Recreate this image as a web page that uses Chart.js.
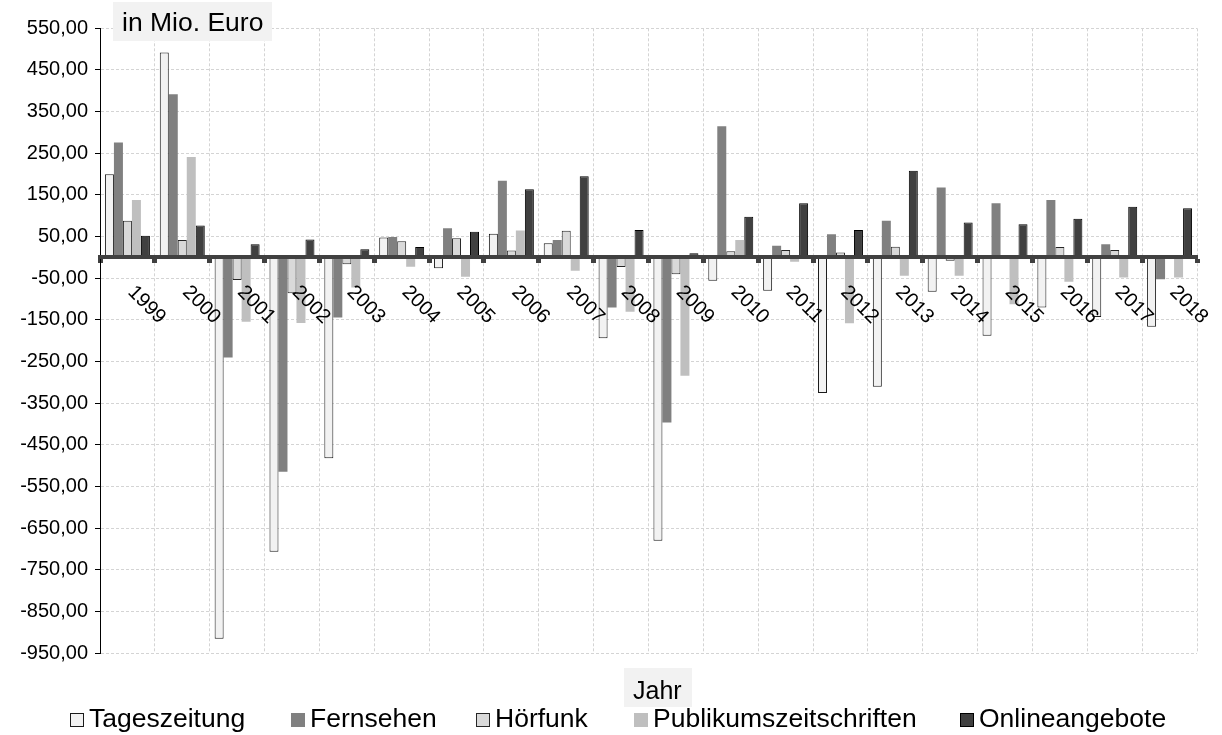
<!DOCTYPE html>
<html><head><meta charset="utf-8">
<script src="https://cdn.jsdelivr.net/npm/chart.js@4.4.1/dist/chart.umd.min.js"></script>
<style>
html,body{margin:0;padding:0;background:#fff;overflow:hidden;}
#c{display:block;}
</style></head><body>
<canvas id="c" width="1222" height="735"></canvas>
<script>
const categories = ['1999','2000','2001','2002','2003','2004','2005','2006','2007','2008','2009','2010','2011','2012','2013','2014','2015','2016','2017','2018'];
const tageszeitung = [200, 492, -915, -706, -482, 48, -26, 57, 34, -194, -680, -56, -80, -325, -310, -82, -188, -120, -143, -166];
const fernsehen = [276, 392, -240, -514, -144, 49, 70, 184, 42, -120, -396, 315, 28, 56, 88, 168, 130, 138, 32, -52];
const hoerfunk = [88, 42, -54, -86, -16, 39, 46, 17, 64, -23, -40, 15, 18, 12, 26, -8, 2, 25, 18, -2];
const publikumszeitschriften = [138, 241, -154, -157, -72, -22, -46, 65, -32, -130, -284, 42, -10, -158, -44, -44, -112, -58, -48, -48];
const onlineangebote = [52, 77, 32, 43, 20, 25, 62, 164, 195, 66, 10, 98, 130, 66, 208, 84, 80, 93, 122, 118];
const seriesNames = ['Tageszeitung', 'Fernsehen', 'Hörfunk', 'Publikumszeitschriften', 'Onlineangebote'];
const yTickValues = [550, 450, 350, 250, 150, 50, -50, -150, -250, -350, -450, -550, -650, -750, -850, -950];
const yAxisTitle = 'in Mio. Euro';
const xAxisTitle = 'Jahr';

const FONT = '"Liberation Sans", Arial, sans-serif';
const legendBoxX = [70, 291, 476, 634, 960];

const ds = (label, data, bg, border, bw) => ({
  label, data, backgroundColor: bg, borderColor: border, borderWidth: bw,
  borderSkipped: false, categoryPercentage: 0.82, barPercentage: 1.0
});

const overlay = {
  id: 'overlay',
  afterDraw(chart) {
    const ctx = chart.ctx;
    const xs = chart.scales.x, ys = chart.scales.y;
    const y0 = ys.getPixelForValue(0);
    ctx.save();
    // category labels, rotated 45 degrees downward
    ctx.font = '20px ' + FONT;
    ctx.fillStyle = '#000';
    categories.forEach((c, i) => {
      const px = xs.getPixelForValue(i);
      ctx.save();
      ctx.translate(px - 0.5, y0 + 35.5);
      ctx.rotate(Math.PI / 4);
      ctx.textAlign = 'left';
      ctx.textBaseline = 'alphabetic';
      ctx.fillText(c, 0, 0);
      ctx.restore();
    });
    // y title box
    ctx.fillStyle = '#f2f2f2';
    ctx.fillRect(113, 2, 159, 39);
    ctx.fillStyle = '#000';
    ctx.font = '26.5px ' + FONT;
    ctx.textAlign = 'left';
    ctx.textBaseline = 'alphabetic';
    ctx.fillText(yAxisTitle, 122, 31);
    // x title box
    ctx.fillStyle = '#f2f2f2';
    ctx.fillRect(624, 668, 68, 39);
    ctx.fillStyle = '#000';
    ctx.font = '25px ' + FONT;
    ctx.fillText(xAxisTitle, 633, 699);
    // legend
    ctx.font = '26.5px ' + FONT;
    chart.data.datasets.forEach((d, i) => {
      const x = legendBoxX[i];
      ctx.fillStyle = d.backgroundColor;
      ctx.fillRect(x, 713, 14, 14);
      if (d.borderWidth) {
        ctx.strokeStyle = d.borderColor;
        ctx.lineWidth = 1;
        ctx.strokeRect(x + 0.5, 713.5, 13, 13);
      }
      ctx.fillStyle = '#000';
      ctx.fillText(d.label, x + 19, 727);
    });
    ctx.restore();
  }
};

new Chart(document.getElementById('c'), {
  type: 'bar',
  data: {
    labels: categories,
    datasets: [
      ds(seriesNames[0], tageszeitung, '#f2f2f2', '#1a1a1a', 1),
      ds(seriesNames[1], fernsehen, '#808080', '#808080', 0),
      ds(seriesNames[2], hoerfunk, '#d9d9d9', '#262626', 1),
      ds(seriesNames[3], publikumszeitschriften, '#bfbfbf', '#bfbfbf', 0),
      ds(seriesNames[4], onlineangebote, '#404040', '#000000', 1)
    ]
  },
  options: {
    responsive: false,
    animation: false,
    layout: { padding: { left: 0, right: 25, top: 28.3, bottom: 735 - 653.3 } },
    plugins: { legend: { display: false }, title: { display: false }, tooltip: { enabled: false } },
    scales: {
      x: {
        position: { y: 0 },
        offset: true,
        grid: { offset: true, color: '#d4d4d4', lineWidth: 1, drawTicks: true, tickLength: 4, tickWidth: 5, tickColor: '#404040', tickBorderDash: [] },
        border: { display: true, color: '#404040', width: 4, dash: [3, 2], z: 1 },
        ticks: { display: false }
      },
      y: {
        min: -950, max: 550,
        afterBuildTicks(scale) { scale.ticks = yTickValues.map(v => ({ value: v })); },
        afterFit(scale) { scale.width = 100; },
        grid: { color: '#d4d4d4', lineWidth: 1, drawTicks: true, tickLength: 5, tickColor: '#000', tickWidth: 1 },
        border: { display: true, color: '#000', width: 1, dash: [3, 2] },
        ticks: {
          padding: 7, color: '#000', font: { family: FONT, size: 20 },
          callback: v => v.toFixed(2).replace('.', ',')
        }
      }
    }
  },
  plugins: [overlay]
});
</script>
</body></html>
